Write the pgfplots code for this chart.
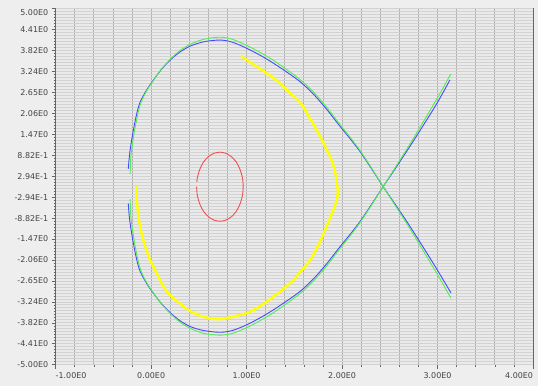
\documentclass[border=0pt]{standalone}
\usepackage{fontspec}
\setmainfont{DejaVu Sans}
\usepackage{pgfplots}
\pgfplotsset{compat=1.18}
\definecolor{outerbg}{HTML}{EEEEEE}
\definecolor{plotbg}{HTML}{EAEAEA}
\definecolor{vgrid}{HTML}{B0B0B0}
\definecolor{hgrid}{HTML}{D2D2D2}
\definecolor{txt}{HTML}{444444}
\definecolor{cblue}{HTML}{4848FF}
\definecolor{cgreen}{HTML}{50EE50}
\definecolor{cyellow}{HTML}{FFFF00}
\definecolor{cred}{HTML}{F05050}
\begin{document}
\begin{tikzpicture}
\fill[outerbg] (0,0) rectangle (538bp,386bp);
\useasboundingbox (0,0) rectangle (538bp,386bp);
\begin{axis}[
  at={(55.7bp,21.3bp)}, anchor=south west,
  scale only axis, width=477.3bp, height=356bp,
  xmin=-1, xmax=4, ymin=-5, ymax=5,
  axis background/.style={fill=plotbg},
  axis line style={draw=gray!80!black, line width=0.8bp},
  xtick={-1,0,1,2,3,4},
  xticklabels={\makebox[0pt][l]{-1.00E0},0.00E0,1.00E0,2.00E0,3.00E0,\makebox[0pt][r]{4.00E0}},
  minor x tick num=4,
  xmajorgrids, xminorgrids,
  major grid style={draw=vgrid, line width=0.8bp},
  minor grid style={draw=vgrid, line width=0.8bp},
  ytick={-5,-4.41176,-3.82353,-3.23529,-2.64706,-2.05882,-1.47059,-0.88235,-0.29412,0.29412,0.88235,1.47059,2.05882,2.64706,3.23529,3.82353,4.41176,5},
  yticklabels={-5.00E0,-4.41E0,-3.82E0,-3.24E0,-2.65E0,-2.06E0,-1.47E0,-8.82E-1,-2.94E-1,2.94E-1,8.82E-1,1.47E0,2.06E0,2.65E0,3.24E0,3.82E0,4.41E0,\raisebox{-6.5bp}[0pt][0pt]{5.00E0}},
  extra y ticks={-5,-4.9159664,...,5.01},
  extra y tick labels={},
  extra y tick style={grid=major, major grid style={draw=hgrid, line width=0.75bp}, major tick length=2bp},
  tick align=outside,
  xtick pos=bottom, ytick pos=left,
  major tick length=4bp, minor tick length=2bp,
  tick style={draw=gray!80!black, line width=0.6bp},
  tick label style={font=\fontsize{8}{9.6}\selectfont, text=txt},
  clip=true,
]
% blue upper
\addplot[cblue, line width=0.9bp, smooth] coordinates {
(-0.24,0.50) (-0.232,0.75) (-0.222,1.0) (-0.205,1.3) (-0.185,1.61) (-0.168,1.84) (-0.145,2.12) (-0.115,2.38) (-0.06,2.66) (-0.01,2.87) (0.10,3.27) (0.20,3.56) (0.30,3.78) (0.41,3.95) (0.55,4.07) (0.72,4.12) (0.85,4.06) (1.00,3.89) (1.15,3.68) (1.28,3.47) (1.42,3.22) (1.56,2.95) (1.70,2.60) (1.84,2.17) (1.98,1.69) (2.09,1.33) (2.19,0.98) (2.31,0.50) (2.43,0.00) (2.55,-0.47) (2.70,-1.07) (2.85,-1.70) (3.00,-2.35) (3.14,-2.98)
};
% blue lower
\addplot[cblue, line width=0.9bp, smooth] coordinates {
(-0.24,-0.47) (-0.232,-0.75) (-0.222,-1.0) (-0.205,-1.3) (-0.185,-1.61) (-0.168,-1.84) (-0.145,-2.12) (-0.115,-2.38) (-0.06,-2.66) (-0.01,-2.87) (0.10,-3.26) (0.20,-3.54) (0.30,-3.76) (0.41,-3.93) (0.55,-4.04) (0.72,-4.09) (0.85,-4.04) (1.00,-3.88) (1.15,-3.67) (1.28,-3.46) (1.42,-3.21) (1.56,-2.94) (1.70,-2.59) (1.84,-2.16) (1.98,-1.68) (2.09,-1.32) (2.19,-0.97) (2.31,-0.49) (2.43,0.00) (2.55,0.48) (2.70,1.09) (2.85,1.72) (3.00,2.37) (3.13,3.00)
};
% green upper
\addplot[cgreen, line width=0.9bp, smooth] coordinates {
(-0.22,0.36) (-0.215,0.75) (-0.206,1.0) (-0.19,1.3) (-0.172,1.61) (-0.155,1.84) (-0.133,2.12) (-0.103,2.39) (-0.05,2.68) (0.0,2.89) (0.10,3.28) (0.20,3.58) (0.30,3.82) (0.41,4.00) (0.55,4.14) (0.72,4.20) (0.85,4.14) (1.00,3.97) (1.15,3.76) (1.28,3.55) (1.42,3.29) (1.56,3.01) (1.70,2.66) (1.84,2.23) (1.98,1.74) (2.09,1.37) (2.19,1.01) (2.31,0.52) (2.43,0.00) (2.55,-0.50) (2.70,-1.13) (2.85,-1.80) (3.00,-2.47) (3.14,-3.13)
};
% green lower
\addplot[cgreen, line width=0.9bp, smooth] coordinates {
(-0.22,-0.35) (-0.215,-0.75) (-0.206,-1.0) (-0.19,-1.3) (-0.172,-1.61) (-0.155,-1.84) (-0.133,-2.12) (-0.103,-2.39) (-0.05,-2.68) (0.0,-2.89) (0.10,-3.27) (0.20,-3.56) (0.30,-3.80) (0.41,-3.98) (0.55,-4.12) (0.72,-4.17) (0.85,-4.12) (1.00,-3.96) (1.15,-3.75) (1.28,-3.54) (1.42,-3.28) (1.56,-3.00) (1.70,-2.65) (1.84,-2.22) (1.98,-1.73) (2.09,-1.36) (2.19,-1.00) (2.31,-0.51) (2.43,0.00) (2.55,0.51) (2.70,1.15) (2.85,1.82) (3.00,2.50) (3.14,3.17)
};
% yellow
\addplot[cyellow, line width=2.4bp, smooth] coordinates {
(-0.155,0.02) (-0.15,-0.37) (-0.13,-0.9) (-0.10,-1.31) (-0.06,-1.70) (-0.01,-2.06) (0.06,-2.45) (0.13,-2.81) (0.20,-3.05) (0.30,-3.28) (0.40,-3.48) (0.51,-3.62) (0.62,-3.70) (0.72,-3.72) (0.88,-3.64) (1.04,-3.51) (1.16,-3.32) (1.28,-3.09) (1.39,-2.86) (1.49,-2.62) (1.58,-2.34) (1.665,-2.06) (1.72,-1.80) (1.77,-1.54) (1.84,-1.10) (1.90,-0.70) (1.945,-0.37) (1.955,-0.10) (1.945,0.10) (1.92,0.50) (1.875,0.84) (1.81,1.20) (1.735,1.59) (1.65,1.98) (1.56,2.37) (1.42,2.72) (1.32,2.97) (1.21,3.19) (1.08,3.42) (0.94,3.67)
};
% red
\addplot[cred, line width=0.9bp, smooth] coordinates {
(0.476,0.000) (0.484,-0.251) (0.509,-0.485) (0.547,-0.686) (0.598,-0.840) (0.657,-0.937) (0.720,-0.970) (0.783,-0.937) (0.842,-0.840) (0.893,-0.686) (0.931,-0.485) (0.956,-0.251) (0.964,0.000) (0.956,0.251) (0.931,0.485) (0.893,0.686) (0.842,0.840) (0.783,0.937) (0.720,0.970) (0.657,0.937) (0.598,0.840) (0.547,0.686) (0.509,0.485) (0.484,0.251) (0.478,0.135)
};
\end{axis}
\end{tikzpicture}
\end{document}
